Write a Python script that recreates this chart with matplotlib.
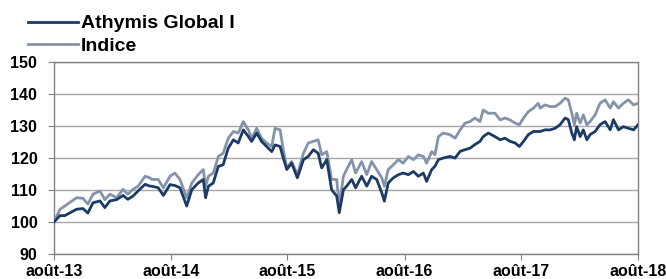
import matplotlib
matplotlib.use('Agg')
import matplotlib.pyplot as plt
import pandas as pd

# Readings (base 100 in Aug 2013)
dates = [
    '2013-08-01', '2013-08-20', '2013-09-04', '2013-10-11', '2013-10-31', '2013-11-15',
    '2013-12-01', '2013-12-23', '2014-01-07', '2014-01-23', '2014-02-13', '2014-03-05',
    '2014-03-20', '2014-04-05', '2014-04-21', '2014-05-13', '2014-05-28', '2014-06-03',
    '2014-06-23', '2014-07-09', '2014-07-30', '2014-08-14', '2014-08-30', '2014-09-20',
    '2014-10-06', '2014-10-26', '2014-11-11', '2014-11-18', '2014-11-27', '2014-12-12',
    '2014-12-28', '2015-01-12', '2015-01-28', '2015-02-13', '2015-02-28', '2015-03-16',
    '2015-04-01', '2015-04-11', '2015-04-27', '2015-05-12', '2015-05-28', '2015-06-13',
    '2015-06-23', '2015-07-09', '2015-07-19', '2015-07-30', '2015-08-14', '2015-09-01',
    '2015-09-20', '2015-10-05', '2015-10-21', '2015-11-05', '2015-11-16', '2015-12-02',
    '2015-12-17', '2016-01-02', '2016-01-10', '2016-01-23', '2016-02-02', '2016-02-18',
    '2016-03-01', '2016-03-20', '2016-04-05', '2016-04-20', '2016-05-06', '2016-05-22',
    '2016-05-30', '2016-06-11', '2016-06-27', '2016-07-13', '2016-07-28', '2016-08-13',
    '2016-08-29', '2016-09-13', '2016-09-29', '2016-10-09', '2016-10-25', '2016-11-04',
    '2016-11-15', '2016-11-30', '2016-12-21', '2017-01-06', '2017-01-22', '2017-02-06',
    '2017-02-22', '2017-03-09', '2017-03-25', '2017-04-04', '2017-04-20', '2017-05-11',
    '2017-05-27', '2017-06-11', '2017-06-27', '2017-07-13', '2017-07-26', '2017-08-08',
    '2017-08-23', '2017-09-08', '2017-09-23', '2017-09-29', '2017-10-14', '2017-10-30',
    '2017-11-15', '2017-11-30', '2017-12-16', '2017-12-26', '2018-01-06', '2018-01-14',
    '2018-01-21', '2018-02-01', '2018-02-11', '2018-02-22', '2018-03-04', '2018-03-20',
    '2018-04-04', '2018-04-20', '2018-05-06', '2018-05-16', '2018-06-01', '2018-06-16',
    '2018-07-02', '2018-07-18', '2018-08-01',
]

fund = [
    100.0, 102.0, 102.0, 104.0, 104.2, 102.8,
    106.0, 106.6, 104.5, 106.6, 107.0, 108.3,
    107.1, 108.1, 109.7, 111.8, 111.2, 111.2,
    110.7, 108.3, 111.7, 111.4, 110.7, 105.0,
    110.1, 112.2, 113.3, 107.6, 111.2, 112.2,
    117.4, 117.9, 123.1, 125.7, 124.7, 128.8,
    126.7, 125.2, 127.8, 125.2, 123.6, 122.0,
    124.1, 123.6, 120.0, 116.4, 118.4, 113.8,
    119.5, 120.5, 122.6, 121.5, 116.9, 119.5,
    110.1, 108.1, 102.9, 110.1, 111.2, 113.3,
    110.7, 114.3, 111.2, 114.3, 113.3, 109.1,
    106.5, 112.2, 113.8, 114.8, 115.3, 114.8,
    115.8, 114.3, 115.3, 112.7, 116.4, 117.4,
    119.5, 120.0, 120.5, 120.0, 122.1, 122.6,
    123.1, 124.2, 125.2, 126.7, 127.8, 126.7,
    125.7, 126.2, 125.2, 124.7, 123.6, 125.2,
    127.3, 128.3, 128.3, 128.3, 128.8, 128.8,
    129.3, 130.4, 132.5, 132.0, 127.8, 125.7,
    129.8, 126.7, 128.8, 125.7, 127.3, 128.3,
    130.4, 131.4, 128.8, 132.0, 128.8, 129.8,
    129.3, 128.8, 130.4,
]

indice = [
    100.0, 104.0, 105.0, 107.6, 107.4, 105.6,
    108.7, 109.7, 107.0, 108.7, 107.6, 110.2,
    108.7, 110.2, 111.2, 114.3, 113.8, 113.3,
    113.3, 110.7, 114.3, 115.3, 113.3, 107.6,
    112.2, 114.8, 116.4, 111.2, 114.3, 115.3,
    120.5, 121.5, 126.2, 128.3, 127.8, 131.4,
    128.8, 126.2, 129.3, 126.2, 124.7, 123.6,
    129.3, 128.8, 122.6, 116.9, 118.9, 114.8,
    121.5, 124.7, 125.2, 125.7, 121.0, 122.0,
    113.3, 113.3, 105.0, 114.3, 116.4, 119.5,
    115.3, 118.9, 114.8, 118.9, 116.4, 113.8,
    111.2, 116.4, 117.9, 119.5, 118.4, 120.5,
    119.5, 121.0, 120.5, 118.4, 122.0, 121.0,
    126.7, 127.8, 127.3, 126.2, 128.8, 130.9,
    131.4, 132.5, 131.4, 135.0, 134.0, 134.0,
    131.9, 132.5, 131.9, 130.9, 130.4, 132.5,
    134.5, 135.6, 137.1, 135.6, 136.6, 136.1,
    136.1, 137.1, 138.7, 138.2, 134.0, 130.4,
    134.0, 130.9, 133.5, 130.4, 131.4, 133.5,
    137.1, 138.2, 135.6, 137.6, 135.6, 137.1,
    138.2, 136.6, 137.1,
]

tick_dates = ['2013-08-01', '2014-08-01', '2015-08-01', '2016-08-01', '2017-08-01', '2018-08-01']
tick_labels = ['août-13', 'août-14', 'août-15', 'août-16', 'août-17', 'août-18']
y_ticks = [90, 100, 110, 120, 130, 140, 150]

plt.rcParams['font.family'] = ['Liberation Sans', 'DejaVu Sans']

x = pd.to_datetime(dates)
fig = plt.figure(figsize=(6.66, 2.79), dpi=100)
ax = fig.add_axes([0.081, 0.0896, 0.877, 0.688])

navy = '#1B3A64'
grey = '#8593AA'

ax.plot(x, indice, color=grey, linewidth=2.0, label='Indice', zorder=3)
ax.plot(x, fund, color=navy, linewidth=2.0, label='Athymis Global I', zorder=4)

ax.set_ylim(90, 150)
ax.set_yticks(y_ticks)
ax.set_xlim(pd.Timestamp(tick_dates[0]), pd.Timestamp(tick_dates[-1]))
ax.set_xticks(pd.to_datetime(tick_dates))
ax.set_xticklabels(tick_labels)

ax.grid(axis='y', color='#A6A6A6', linewidth=1.0)
ax.set_axisbelow(True)
for side in ['left', 'bottom', 'top', 'right']:
    ax.spines[side].set_color('#808080')
    ax.spines[side].set_linewidth(1.0)

ax.tick_params(axis='both', length=4, color='#808080', labelsize=11.5, pad=3)
ax.tick_params(axis='y', pad=8)
for lbl in ax.get_xticklabels() + ax.get_yticklabels():
    lbl.set_fontweight('bold')

# legend above the plot, fund first
handles, labels = ax.get_legend_handles_labels()
fig.legend(handles[::-1], labels[::-1], loc='upper left', bbox_to_anchor=(0.03, 0.975),
           frameon=False, prop={'weight': 'bold', 'size': 14},
           handlelength=2.6, handletextpad=0.15, labelspacing=0.25, borderaxespad=0)

plt.savefig('out.png', dpi=100)
